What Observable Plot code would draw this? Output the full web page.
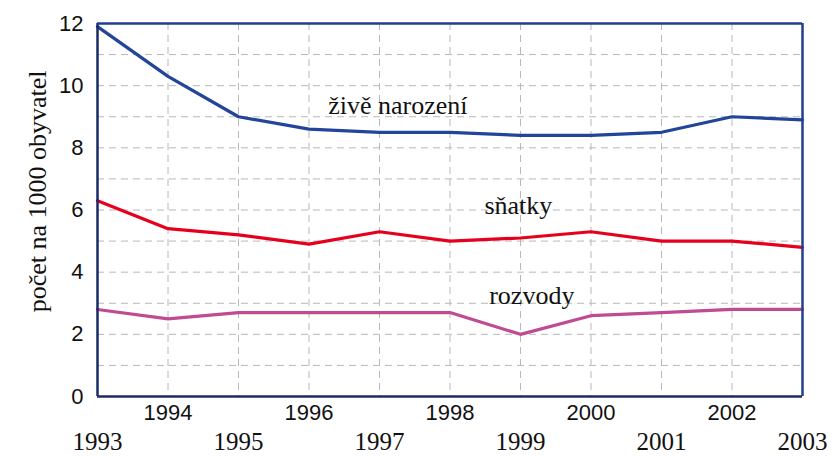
<!DOCTYPE html>
<html>
<head>
<meta charset="utf-8">
<script src="https://cdn.jsdelivr.net/npm/d3@7"></script>
<script src="https://cdn.jsdelivr.net/npm/@observablehq/plot@0.6"></script>
<style>
  html, body { margin: 0; padding: 0; background: #fff; }
  svg text.serif-t { font-family: "Liberation Serif", "Times New Roman", serif; }
  svg text.sans-t { font-family: "Liberation Sans", Arial, sans-serif; }
</style>
</head>
<body>
<div id="chart"></div>
<script>
const years = [1993, 1994, 1995, 1996, 1997, 1998, 1999, 2000, 2001, 2002, 2003];
const ziveNarozeni = [11.9, 10.3, 9.0, 8.6, 8.5, 8.5, 8.4, 8.4, 8.5, 9.0, 8.9];
const snatky = [6.3, 5.4, 5.2, 4.9, 5.3, 5.0, 5.1, 5.3, 5.0, 5.0, 4.8];
const rozvody = [2.8, 2.5, 2.7, 2.7, 2.7, 2.7, 2.0, 2.6, 2.7, 2.8, 2.8];
const seriesNames = ["živě narození", "sňatky", "rozvody"];
const yTicks = [0, 2, 4, 6, 8, 10, 12];
const yGrid = [1, 2, 3, 4, 5, 6, 7, 8, 9, 10, 11];
const evenYears = [1994, 1996, 1998, 2000, 2002];
const oddYears = [1993, 1995, 1997, 1999, 2001, 2003];
const yTitle = "počet na 1000 obyvatel";
// series label anchor positions in data units
const labelYears = [1997.26, 1998.97, 1999.16];
const labelValues = [9.36, 6.14, 3.25];

const colors = ["#22459a", "#e6001e", "#c04a93"];
const allSeries = [ziveNarozeni, snatky, rozvody];
const rows = [];
allSeries.forEach((vals, si) => vals.forEach((v, i) => rows.push({year: years[i], value: v, series: seriesNames[si]})));
const labels = seriesNames.map((n, i) => ({name: n, year: labelYears[i], value: labelValues[i]}));

const serifFont = "Liberation Serif";
const sansFont = "Liberation Sans";

const chart = Plot.plot({
  width: 837,
  height: 456,
  marginLeft: 97,
  marginRight: 35,
  marginTop: 23,
  marginBottom: 60,
  x: {domain: [1993, 2003], axis: null},
  y: {domain: [0, 12], axis: null},
  color: {domain: seriesNames, range: colors},
  marks: [
    Plot.ruleY(yGrid, {stroke: "#b8b8b8", strokeWidth: 1, strokeDasharray: "7,5"}),
    Plot.ruleX(years.slice(1, -1), {stroke: "#b8b8b8", strokeWidth: 1, strokeDasharray: "7,5"}),
    Plot.line(rows, {x: "year", y: "value", z: "series", stroke: "series", strokeWidth: 3.2, strokeLinejoin: "miter"}),
    Plot.ruleX([1993], {stroke: "#1b2a66", strokeWidth: 2.5}),
    Plot.ruleY([0], {stroke: "#1b2a66", strokeWidth: 2.5}),
    Plot.ruleX([2003], {stroke: "#223f8c", strokeWidth: 2.5}),
    Plot.ruleY([12], {stroke: "#223f8c", strokeWidth: 2.5}),
    Plot.axisY(yTicks, {tickSize: 0, tickPadding: 14, fontSize: 22, fontFamily: sansFont, fill: "#111", label: null}),
    Plot.axisX(evenYears, {tickSize: 0, tickPadding: 8, fontSize: 22, fontFamily: sansFont, fill: "#111", tickFormat: d => String(d), label: null}),
    Plot.axisX(oddYears, {tickSize: 0, tickPadding: 36, fontSize: 25, fontFamily: serifFont, fill: "#111", tickFormat: d => String(d), label: null}),
    Plot.text(labels, {x: "year", y: "value", text: "name", fontSize: 26, fontFamily: serifFont, fill: "#111"}),
    Plot.text([yTitle], {x: 1993, y: 6.6, text: d => d, rotate: -90, dx: -60, fontSize: 26, fontFamily: serifFont, fill: "#111"})
  ]
});
chart.querySelectorAll("g[font-family]").forEach(g => {
  const fam = g.getAttribute("font-family");
  const isSerif = /Serif/.test(fam);
  g.querySelectorAll("text").forEach(t => {
    t.setAttribute("font-family", isSerif ? "Liberation Serif, Times New Roman, serif" : "Liberation Sans, Arial, sans-serif");
    t.setAttribute("class", isSerif ? "serif-t" : "sans-t");
  });
});
document.getElementById("chart").appendChild(chart);
</script>
</body>
</html>
